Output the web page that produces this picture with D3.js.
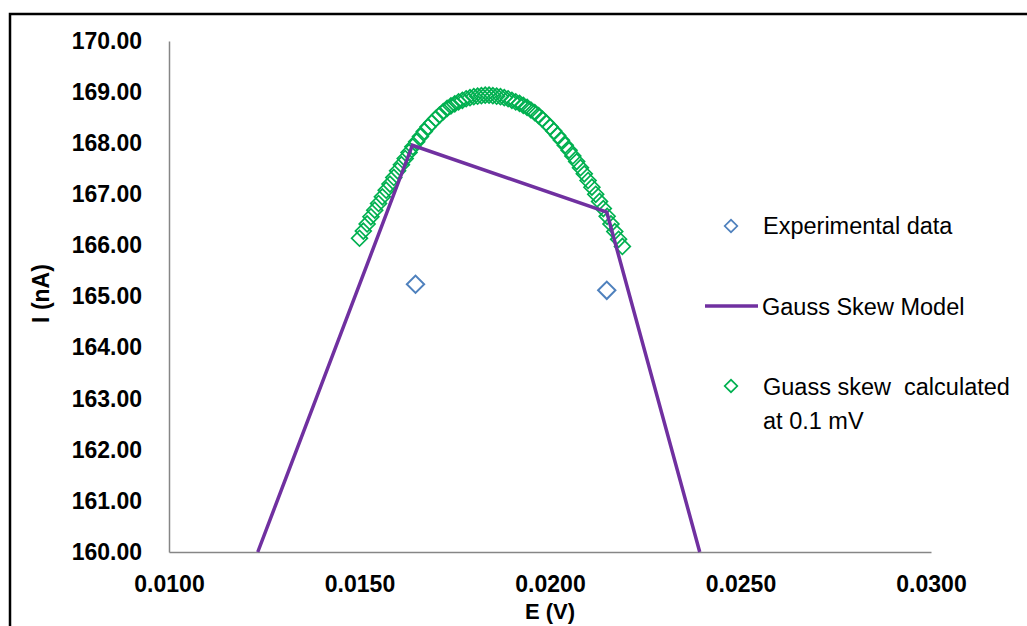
<!DOCTYPE html>
<html>
<head>
<meta charset="utf-8">
<script src="https://cdn.jsdelivr.net/npm/d3@7"></script>
<style>
  body { margin: 0; background: #fff; }
  text { font-family: "Liberation Sans", Arial, sans-serif; }
</style>
</head>
<body>
<div id="chart"></div>
<script>
// experimental points
const expE = [0.01647, 0.02149];
const expI = [165.24, 165.12];

// Gauss skew model line
const modelE = [0.01233, 0.01639, 0.02149, 0.02393];
const modelI = [160.00, 167.96, 166.65, 160.00];

// Gauss skew calculated at 0.1 mV steps
const calcE = [
  0.0150, 0.0151, 0.0152, 0.0153, 0.0154, 0.0155, 0.0156, 0.0157, 0.0158, 0.0159,
  0.0160, 0.0161, 0.0162, 0.0163, 0.0164, 0.0165, 0.0166, 0.0167, 0.0168, 0.0169,
  0.0170, 0.0171, 0.0172, 0.0173, 0.0174, 0.0175, 0.0176, 0.0177, 0.0178, 0.0179,
  0.0180, 0.0181, 0.0182, 0.0183, 0.0184, 0.0185, 0.0186, 0.0187, 0.0188, 0.0189,
  0.0190, 0.0191, 0.0192, 0.0193, 0.0194, 0.0195, 0.0196, 0.0197, 0.0198, 0.0199,
  0.0200, 0.0201, 0.0202, 0.0203, 0.0204, 0.0205, 0.0206, 0.0207, 0.0208, 0.0209,
  0.0210, 0.0211, 0.0212, 0.0213, 0.0214, 0.0215, 0.0216, 0.0217, 0.0218, 0.0219
];
const calcI = [
  166.14, 166.28, 166.42, 166.56, 166.69, 166.82, 166.95, 167.08, 167.20, 167.33,
  167.46, 167.58, 167.70, 167.82, 167.93, 168.03, 168.13, 168.23, 168.32, 168.40,
  168.48, 168.55, 168.62, 168.68, 168.73, 168.77, 168.81, 168.84, 168.87, 168.89,
  168.91, 168.92, 168.93, 168.94, 168.94, 168.93, 168.92, 168.91, 168.89, 168.87,
  168.84, 168.81, 168.78, 168.74, 168.70, 168.65, 168.60, 168.54, 168.47, 168.40,
  168.32, 168.24, 168.15, 168.06, 167.96, 167.86, 167.75, 167.64, 167.52, 167.40,
  167.27, 167.14, 167.00, 166.86, 166.72, 166.57, 166.42, 166.27, 166.12, 165.98
];

const xTicks = [0.0100, 0.0150, 0.0200, 0.0250, 0.0300];
const yTicks = [160, 161, 162, 163, 164, 165, 166, 167, 168, 169, 170];

const svgWidth = 1027;
const svgHeight = 626;
const margin = { top: 41, right: 96, bottom: 74, left: 169 };
const width = svgWidth - margin.left - margin.right;
const height = svgHeight - margin.top - margin.bottom;

const root = d3.select('#chart')
  .append('svg')
  .attr('width', svgWidth)
  .attr('height', svgHeight);

// outer frame (cut by the picture edge)
root.append('rect')
  .attr('x', 10).attr('y', 14)
  .attr('width', 1100).attr('height', 700)
  .attr('fill', 'none')
  .attr('stroke', '#000')
  .attr('stroke-width', 2.5);

const svg = root.append('g')
  .attr('transform', `translate(${margin.left},${margin.top})`);

const x = d3.scaleLinear().domain([0.0100, 0.0300]).range([0, width]);
const y = d3.scaleLinear().domain([160, 170]).range([height, 0]);

// axes
const xAxis = svg.append('g')
  .attr('transform', `translate(0,${height})`)
  .call(d3.axisBottom(x).tickValues(xTicks).tickSize(0).tickPadding(24).tickFormat(d3.format('.4f')));
const yAxis = svg.append('g')
  .call(d3.axisLeft(y).tickValues(yTicks).tickSize(0).tickPadding(27).tickFormat(d3.format('.2f')));

[xAxis, yAxis].forEach(a => {
  a.select('.domain').attr('stroke', '#868686').attr('stroke-width', 1.5);
  a.selectAll('text')
    .style('font-family', '"Liberation Sans", Arial, sans-serif')
    .style('font-size', '23px')
    .style('font-weight', 'bold')
    .attr('fill', '#000');
});

// axis titles
svg.append('text')
  .attr('x', x(0.0200))
  .attr('y', height + 67)
  .attr('text-anchor', 'middle')
  .style('font-size', '22px')
  .style('font-weight', 'bold')
  .text('E (V)');

svg.append('text')
  .attr('transform', 'rotate(-90)')
  .attr('x', -y(165) + 3)
  .attr('y', -margin.left + 49)
  .attr('text-anchor', 'middle')
  .style('font-size', '23px')
  .style('font-weight', 'bold')
  .text('I (nA)');

// calculated points
svg.selectAll('.calc')
  .data(calcE.map((e, i) => ({ e, i: calcI[i] })))
  .enter().append('path')
  .attr('class', 'calc')
  .attr('d', d3.symbol().type(d3.symbolSquare).size(125))
  .attr('transform', d => `translate(${x(d.e)},${y(d.i)}) rotate(45)`)
  .attr('fill', 'none')
  .attr('stroke', '#00b050')
  .attr('stroke-width', 1.7);

// model line
const line = d3.line().x(d => x(d.e)).y(d => y(d.i));
svg.append('path')
  .datum(modelE.map((e, i) => ({ e, i: modelI[i] })))
  .attr('d', line)
  .attr('fill', 'none')
  .attr('stroke', '#7030a0')
  .attr('stroke-width', 3.5);

// experimental points
svg.selectAll('.exp')
  .data(expE.map((e, i) => ({ e, i: expI[i] })))
  .enter().append('path')
  .attr('class', 'exp')
  .attr('d', d3.symbol().type(d3.symbolSquare).size(150))
  .attr('transform', d => `translate(${x(d.e)},${y(d.i)}) rotate(45)`)
  .attr('fill', 'none')
  .attr('stroke', '#4f81bd')
  .attr('stroke-width', 2);

// legend
const legend = root.append('g');
legend.append('path')
  .attr('d', d3.symbol().type(d3.symbolSquare).size(80))
  .attr('transform', 'translate(731,226) rotate(45)')
  .attr('fill', 'none').attr('stroke', '#4f81bd').attr('stroke-width', 1.7);
legend.append('text').attr('x', 763).attr('y', 234)
  .style('font-size', '23.5px').text('Experimental data');

legend.append('line')
  .attr('x1', 705).attr('x2', 758).attr('y1', 306).attr('y2', 306)
  .attr('stroke', '#7030a0').attr('stroke-width', 3.5);
legend.append('text').attr('x', 762).attr('y', 315)
  .style('font-size', '23.5px').text('Gauss Skew Model');

legend.append('path')
  .attr('d', d3.symbol().type(d3.symbolSquare).size(80))
  .attr('transform', 'translate(731,386) rotate(45)')
  .attr('fill', 'none').attr('stroke', '#00b050').attr('stroke-width', 1.7);
legend.append('text').attr('x', 763).attr('y', 395)
  .style('font-size', '23.5px').style('white-space', 'pre').text('Guass skew  calculated');
legend.append('text').attr('x', 763).attr('y', 429)
  .style('font-size', '23.5px').text('at 0.1 mV');
</script>
</body>
</html>
